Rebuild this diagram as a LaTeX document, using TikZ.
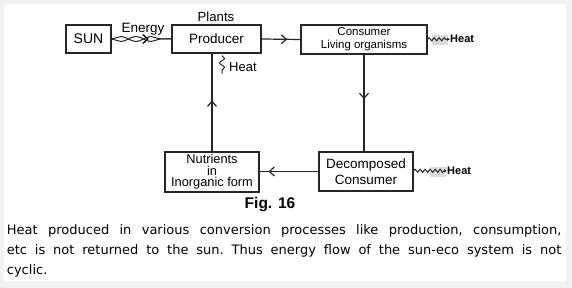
\documentclass[tikz,border=0pt]{standalone}
\usepackage{fontspec}
\setmainfont{Liberation Sans}
\newfontfamily\verdfont{DejaVu Sans}
\usetikzlibrary{arrows.meta,positioning,decorations.pathmorphing,decorations.markings}
\tikzset{
    box/.style={draw=black!85,line width=1.2pt,minimum height=28pt,inner sep=0pt,align=center},
    flow/.style={draw=black!85,line width=1.2pt},
    midarrow/.style={postaction={decorate},decoration={markings,mark=at position #1 with {\arrow{Straight Barb[length=5pt,width=9pt,line width=1.2pt]}}}},
    wave/.style={draw=black!85,line width=1pt,decorate,decoration={snake,segment length=30pt,amplitude=#1}},
    heatcoil/.style={draw=black!85,line width=1pt,decorate,decoration={snake,segment length=5pt,amplitude=1.5pt,post length=2pt},-{Latex[length=3pt,width=3.5pt]}},
    heatlabel/.style={anchor=base west,inner sep=0pt,font=\bfseries\fontsize{11}{13}\selectfont}
}
\begin{document}
\begin{tikzpicture}[x=1pt,y=-1pt]
                    \fill[gray!10] (0,0) rectangle (572,288);
                    \fill[white] (4,4) rectangle (566,281);
                    \useasboundingbox (0,0) rectangle (572,288);
                    \node[box,minimum width=45pt,font=\fontsize{14}{16}\selectfont] (sun) at (88.5,39) {SUN};
                    \node[box,minimum width=89pt,font=\fontsize{13.5}{16}\selectfont] (prod) at (216.5,39) {Producer};
                    \node[box,minimum width=126pt,minimum height=29pt,font=\fontsize{11.5}{13}\selectfont] (cons) at (364,39.5) {Consumer\\Living organisms};
                    \node[box,minimum width=94pt,minimum height=39pt,font=\fontsize{13.5}{16}\selectfont] (decomp) at (366,171.5) {Decomposed\\Consumer};
                    \node[box,minimum width=94pt,minimum height=40pt,font=\fontsize{12.8}{11.5}\selectfont] (nutr) at (212,172) {Nutrients\\in\\Inorganic form};
                    \node[anchor=base,inner sep=0pt,font=\fontsize{13.2}{15}\selectfont] (plants) at (216,22) {Plants};
                    \node[anchor=base,inner sep=0pt,font=\fontsize{13.5}{15}\selectfont] (energy) at (143,33) {Energy};
                    \draw[wave=2.5pt] (sun.east) -- (prod.west);
                    \draw[wave=-2.5pt] (sun.east) -- (prod.west);
                    \path[midarrow=0.62] (sun.east) -- (prod.west);
                    \draw[flow,midarrow=0.66] (prod.east) -- (cons.west);
                    \draw[flow,midarrow=0.46] (cons.south) -- (cons.south |- decomp.north);
                    \draw[flow,midarrow=0.85] (decomp.west) -- (decomp.west -| nutr.east);
                    \draw[flow,midarrow=0.52] (nutr.north) -- (nutr.north |- prod.south);
                    \node[anchor=base west,inner sep=0pt,font=\fontsize{13}{15}\selectfont] (prodheat) at (229,72) {Heat};
                    \draw[draw=black!85,line width=1pt,decorate,decoration={snake,segment length=9pt,amplitude=2.5pt}] ([xshift=5.5pt,yshift=-2pt]prod.south) -- ++(0,18);
                    \fill[gray!28] (432,35) rectangle (448,45);
                    \node[heatlabel] (consheat) at (450,43) {Heat};
                    \draw[heatcoil] (cons.east |- consheat.west) -- (consheat.west);
                    \fill[gray!28] (430,167) rectangle (446,177);
                    \node[heatlabel] (decheat) at (447,174.5) {Heat};
                    \draw[heatcoil] (decomp.east |- decheat.west) -- (decheat.west);
                    \node[anchor=base,inner sep=0pt,font=\bfseries\fontsize{15.5}{17}\selectfont] (fig) at (270,209) {Fig. 16};
                    \node[anchor=north west,inner sep=0pt,text width=554.5pt,align=justify,font=\verdfont\fontsize{13}{19.7}\selectfont] (caption) at (6.7,224.6)
                        {\frenchspacing\tolerance=10000\hbadness=10000\hyphenpenalty=10000 Heat produced in various conversion processes like production, consumption,\linebreak etc is not returned to the sun. Thus energy flow of the sun-eco system is not\linebreak cyclic.};
                \end{tikzpicture}
\end{document}
